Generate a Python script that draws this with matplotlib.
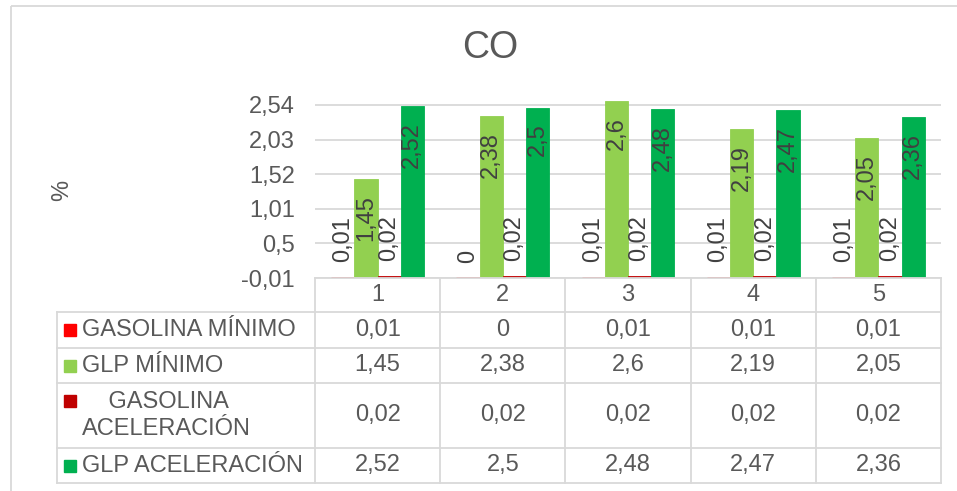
import numpy as np
import matplotlib
matplotlib.use("Agg")
from matplotlib import pyplot as plt
from matplotlib.patches import Rectangle

plt.rcParams['font.family'] = ['Liberation Sans', 'DejaVu Sans']

# datos del grafico
pruebas = ["1", "2", "3", "4", "5"]
series = ["GASOLINA MÍNIMO", "GLP MÍNIMO", "GASOLINA ACELERACIÓN", "GLP ACELERACIÓN"]
gasolina_minimo = [0.01, 0, 0.01, 0.01, 0.01]
glp_minimo = [1.45, 2.38, 2.6, 2.19, 2.05]
gasolina_aceleracion = [0.02, 0.02, 0.02, 0.02, 0.02]
glp_aceleracion = [2.52, 2.5, 2.48, 2.47, 2.36]
ticks_y = [-0.01, 0.5, 1.01, 1.52, 2.03, 2.54]
colores = ["#FF0000", "#92D050", "#C00000", "#00B050"]

datos = [gasolina_minimo, glp_minimo, gasolina_aceleracion, glp_aceleracion]

def coma(v):
    return f"{v:g}".replace(".", ",")

W, H = 957, 491
fig = plt.figure(figsize=(W / 100, H / 100), dpi=100)
gris = "#d9d9d9"
texto_c = "#595959"
fs = 17

# zona del grafico en pixeles
x0, x1 = 315, 941
yb = 278
ymin, ymax = -0.01, 2.68
ppu = 173 / 2.55
yt = yb - (ymax - ymin) * ppu
ax = fig.add_axes([x0 / W, 1 - yb / H, (x1 - x0) / W, (yb - yt) / H])

x = np.arange(1, len(pruebas) + 1)
ancho = 0.185
for i, valores in enumerate(datos):
    pos = x + (i - 1.5) * ancho
    ax.bar(pos, valores, ancho, color=colores[i], edgecolor=colores[i], lw=0.6, zorder=3)
    for p, v in zip(pos, valores):
        if v > 0.5:
            ax.annotate(coma(v), (p, v), xytext=(0, -11.5), textcoords="offset points",
                        rotation=90, rotation_mode="anchor", ha="right", va="center",
                        fontsize=fs, color="#404040", zorder=4)
        else:
            ax.annotate(coma(v), (p, v), xytext=(0, 10.5), textcoords="offset points",
                        rotation=90, rotation_mode="anchor", ha="left", va="center",
                        fontsize=fs, color="#404040", zorder=4)

ax.set_xlim(0.5, len(pruebas) + 0.5)
ax.set_ylim(ymin, ymax)
ax.set_yticks(ticks_y)
ax.set_yticklabels([coma(t) for t in ticks_y])
ax.set_xticks([])
ax.yaxis.grid(True, color=gris, lw=1.3)
ax.set_axisbelow(True)
for s in ax.spines.values():
    s.set_visible(False)
ax.tick_params(axis="y", length=0, pad=14.4, labelsize=fs, labelcolor=texto_c)

# capa en pixeles para la tabla, titulo y borde
ov = fig.add_axes([0, 0, 1, 1])
ov.set_xlim(0, W)
ov.set_ylim(H, 0)
ov.axis("off")
ov.patch.set_alpha(0)

ov.add_patch(Rectangle((11, 6), 1000, 1000, fill=False, ec=gris, lw=1.3, clip_on=False))
ov.text(490, 48, "CO", fontsize=27, ha="center", va="center", color=texto_c)
ov.text(62, 190, "%", fontsize=fs, rotation=90, ha="center", va="center", color=texto_c)

col_w = (x1 - x0) / len(pruebas)
filas = [312, 348, 383, 448, 483]
lw_t = 1.3
ov.plot([x0, x1], [yb, yb], color=gris, lw=lw_t)
for yy in filas:
    ov.plot([57, x1], [yy, yy], color=gris, lw=lw_t)
for k in range(len(pruebas) + 1):
    xx = x0 + k * col_w
    ov.plot([xx, xx], [yb, filas[-1]], color=gris, lw=lw_t)
ov.plot([57, 57], [filas[0], filas[-1]], color=gris, lw=lw_t)

for k, p in enumerate(pruebas):
    ov.text(x0 + (k + 0.5) * col_w, (yb + filas[0]) / 2, p, fontsize=fs,
            ha="center", va="center", color=texto_c)

for i, nombre in enumerate(series):
    yc = (filas[i] + filas[i + 1]) / 2
    if len(nombre) > 16:
        partes = nombre.split(" ")
        etiqueta = "    " + partes[0] + "\n" + partes[1]
        ycuad = yc - 15
    else:
        etiqueta = nombre
        ycuad = yc
    ov.add_patch(Rectangle((64, ycuad - 6), 12, 12, color=colores[i]))
    ov.text(82, yc, etiqueta, fontsize=fs, ha="left", va="center",
            color=texto_c, linespacing=1.25)
    for k, v in enumerate(datos[i]):
        ov.text(x0 + (k + 0.5) * col_w, yc, coma(v), fontsize=fs,
                ha="center", va="center", color=texto_c)

fig.savefig("out.png", dpi=100)
